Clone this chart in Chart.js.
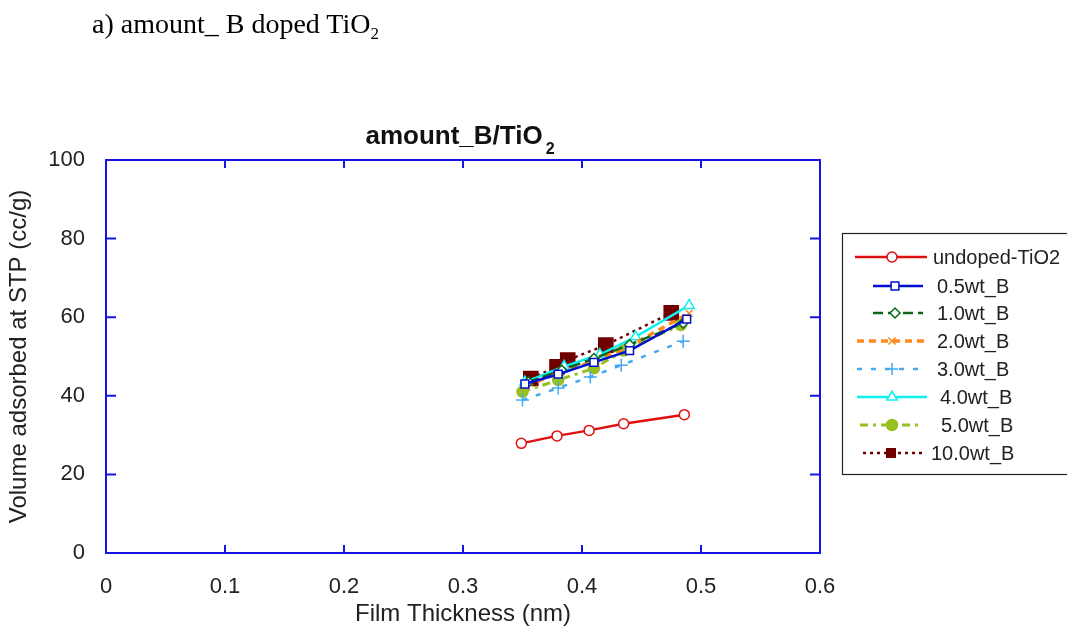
<!DOCTYPE html>
<html>
<head>
<meta charset="utf-8">
<script src="https://cdn.jsdelivr.net/npm/chart.js@4/dist/chart.umd.min.js"></script>
<style>
  body { margin: 0; background: #fff; }
  #wrap { position: relative; width: 1067px; height: 631px; }
  #heading { position: absolute; left: 92px; top: 10px; line-height: 28px; font-family: 'Liberation Serif', serif; font-size: 28px; color: #000; white-space: nowrap; }
  #heading sub { font-size: 17px; vertical-align: -6px; line-height: 0; }
  canvas { position: absolute; left: 0; top: 0; }
</style>
</head>
<body>
<div id="wrap">
  <canvas id="chart" width="1067" height="631"></canvas>
  <div id="heading">a) amount_ B doped TiO<sub>2</sub></div>
</div>
<script>
// values (film thickness nm / volume cc/g)
var seriesNames = ['undoped-TiO2', '0.5wt_B', '1.0wt_B', '2.0wt_B', '3.0wt_B', '4.0wt_B', '5.0wt_B', '10.0wt_B'];

var undopedX = [0.349, 0.379, 0.406, 0.435, 0.486];
var undopedY = [27.9, 29.8, 31.2, 32.9, 35.2];
var b05X = [0.352, 0.380, 0.410, 0.440, 0.488];
var b05Y = [43.0, 45.5, 48.5, 51.5, 59.5];
var b10X = [0.355, 0.383, 0.410, 0.440, 0.485];
var b10Y = [43.5, 46.5, 49.5, 53.0, 58.5];
var b20X = [0.353, 0.382, 0.412, 0.442, 0.490];
var b20Y = [42.5, 46.0, 49.0, 53.0, 61.0];
var b30X = [0.350, 0.380, 0.407, 0.433, 0.485];
var b30Y = [38.9, 42.0, 44.8, 47.8, 53.9];
var b40X = [0.352, 0.385, 0.415, 0.445, 0.490];
var b40Y = [43.5, 47.5, 50.5, 55.0, 63.0];
var b50X = [0.350, 0.380, 0.410, 0.435, 0.483];
var b50Y = [41.0, 44.0, 47.0, 51.5, 58.0];
var b100X = [0.357, 0.379, 0.388, 0.420, 0.475];
var b100Y = [44.4, 47.4, 49.1, 52.9, 61.1];

var xTicks = [0, 0.1, 0.2, 0.3, 0.4, 0.5, 0.6];
var yTicks = [0, 20, 40, 60, 80, 100];

function pts(xs, ys) {
  var out = [];
  for (var i = 0; i < xs.length; i++) out.push({x: xs[i], y: ys[i]});
  return out;
}

var styles = [
  {c: '#e01010', dash: [], w: 2.5, ps: 'circle', r: 5, fill: '#fff'},
  {c: '#0010d0', dash: [], w: 2.5, ps: 'rect', r: 5.5, fill: '#fff'},
  {c: '#0a6a1a', dash: [10, 5], w: 2.5, ps: 'rectRot', r: 5, fill: '#fff'},
  {c: '#ff8a1a', dash: [7, 5], w: 3.5, ps: 'crossRot', r: 5, fill: '#ff8a1a'},
  {c: '#44a8f4', dash: [5, 9], w: 2.5, ps: 'cross', r: 6.5, fill: '#44a8f4'},
  {c: '#10f0f0', dash: [], w: 2.5, ps: 'triangle', r: 6, fill: '#fff'},
  {c: '#96c020', dash: [8, 5, 3, 5], w: 3, ps: 'circle', r: 5.5, fill: '#96c020'},
  {c: '#700000', dash: [3, 4], w: 2.5, ps: 'rect', r: 10, fill: '#700000'}
];
var allX = [undopedX, b05X, b10X, b20X, b30X, b40X, b50X, b100X];
var allY = [undopedY, b05Y, b10Y, b20Y, b30Y, b40Y, b50Y, b100Y];

var datasets = seriesNames.map(function (name, i) {
  var s = styles[i];
  return {
    label: name,
    data: pts(allX[i], allY[i]),
    showLine: true,
    borderColor: s.c,
    backgroundColor: s.fill,
    borderWidth: s.w,
    borderDash: s.dash,
    pointStyle: s.ps,
    pointRadius: s.r,
    pointBorderColor: s.c,
    pointBackgroundColor: s.fill,
    pointBorderWidth: 1.5,
    tension: 0
  };
});

var font = "'Liberation Sans', Arial, sans-serif";

// frame with inward ticks, plus the chart title with subscript
var framePlugin = {
  id: 'frame',
  afterDatasetsDraw: function (chart) {
    var ctx = chart.ctx, a = chart.chartArea;
    var xs = chart.scales.x, ys = chart.scales.y;
    ctx.save();
    ctx.strokeStyle = '#1414e6';
    ctx.lineWidth = 2;
    ctx.strokeRect(a.left, a.top, a.right - a.left, a.bottom - a.top);
    ctx.beginPath();
    xTicks.forEach(function (v) {
      var p = xs.getPixelForValue(v);
      ctx.moveTo(p, a.bottom); ctx.lineTo(p, a.bottom - 8);
      ctx.moveTo(p, a.top); ctx.lineTo(p, a.top + 8);
    });
    yTicks.forEach(function (v) {
      var p = ys.getPixelForValue(v);
      ctx.moveTo(a.left, p); ctx.lineTo(a.left + 10, p);
      ctx.moveTo(a.right, p); ctx.lineTo(a.right - 10, p);
    });
    ctx.stroke();

    // title
    ctx.fillStyle = '#111';
    ctx.font = 'bold 26px ' + font;
    var main = 'amount_B/TiO';
    var w1 = ctx.measureText(main).width;
    ctx.font = 'bold 16px ' + font;
    var w2 = ctx.measureText('2').width;
    var cx = 460;
    var x0 = cx - (w1 + w2 + 3) / 2;
    ctx.textBaseline = 'alphabetic';
    ctx.textAlign = 'left';
    ctx.font = 'bold 26px ' + font;
    ctx.fillText(main, x0, 144);
    ctx.font = 'bold 16px ' + font;
    ctx.fillText('2', x0 + w1 + 3, 154);
    ctx.restore();
  }
};

// legend box with line + marker samples
var legendRows = [
  {y: 257, x1: 855, x2: 927, m: 892, t: 933},
  {y: 286, x1: 873, x2: 923, m: 895, t: 937},
  {y: 313, x1: 873, x2: 923, m: 895, t: 937},
  {y: 341, x1: 857, x2: 927, m: 892, t: 937},
  {y: 369, x1: 857, x2: 927, m: 892, t: 937},
  {y: 397, x1: 857, x2: 927, m: 892, t: 940},
  {y: 425, x1: 860, x2: 920, m: 892, t: 941},
  {y: 453, x1: 863, x2: 923, m: 891, t: 931}
];
var legendPlugin = {
  id: 'boxLegend',
  afterDraw: function (chart) {
    var ctx = chart.ctx;
    ctx.save();
    ctx.strokeStyle = '#222';
    ctx.lineWidth = 1.2;
    ctx.strokeRect(842.5, 233.5, 240, 241);
    ctx.font = '20px ' + font;
    ctx.textBaseline = 'middle';
    ctx.textAlign = 'left';
    chart.data.datasets.forEach(function (ds, i) {
      var r = legendRows[i];
      ctx.strokeStyle = ds.borderColor;
      ctx.lineWidth = ds.borderWidth;
      ctx.setLineDash(ds.borderDash);
      ctx.beginPath();
      ctx.moveTo(r.x1, r.y); ctx.lineTo(r.x2, r.y);
      ctx.stroke();
      ctx.setLineDash([]);
      ctx.fillStyle = ds.pointBackgroundColor;
      ctx.strokeStyle = ds.pointBorderColor;
      ctx.lineWidth = 1.5;
      Chart.helpers.drawPoint(ctx, {
        pointStyle: ds.pointStyle,
        radius: Math.min(ds.pointRadius, 6),
        borderWidth: 1.5
      }, r.m, r.y);
      ctx.fillStyle = '#222';
      ctx.fillText(ds.label, r.t, r.y + 1);
    });
    ctx.restore();
  }
};

new Chart(document.getElementById('chart'), {
  type: 'scatter',
  data: { datasets: datasets },
  plugins: [framePlugin, legendPlugin],
  options: {
    responsive: false,
    animation: false,
    layout: { padding: { top: 160, right: 247, left: 0, bottom: 0 } },
    plugins: { legend: { display: false }, title: { display: false }, tooltip: { enabled: false } },
    scales: {
      x: {
        type: 'linear', min: 0, max: 0.6,
        afterBuildTicks: function (s) { s.ticks = xTicks.map(function (v) { return {value: v}; }); },
        afterFit: function (s) { s.height = 78; },
        grid: { display: false, drawTicks: false },
        border: { display: false },
        ticks: {
          padding: 21, color: '#222', font: { family: font, size: 22 },
          maxRotation: 0,
          callback: function (v) { return v === 0 ? '0' : (Math.round(v * 10) / 10).toFixed(1); }
        },
        title: { display: true, text: 'Film Thickness (nm)', color: '#222', font: { family: font, size: 24 }, padding: { top: 0, bottom: 2 } }
      },
      y: {
        type: 'linear', min: 0, max: 100,
        afterBuildTicks: function (s) { s.ticks = yTicks.map(function (v) { return {value: v}; }); },
        afterFit: function (s) { s.width = 106; },
        grid: { display: false, drawTicks: false },
        border: { display: false },
        ticks: { padding: 21, color: '#222', font: { family: font, size: 22 } },
        title: { display: true, text: 'Volume adsorbed at STP (cc/g)', color: '#222', font: { family: font, size: 24 }, padding: { top: 5, bottom: 0 } }
      }
    }
  }
});
</script>
</body>
</html>
